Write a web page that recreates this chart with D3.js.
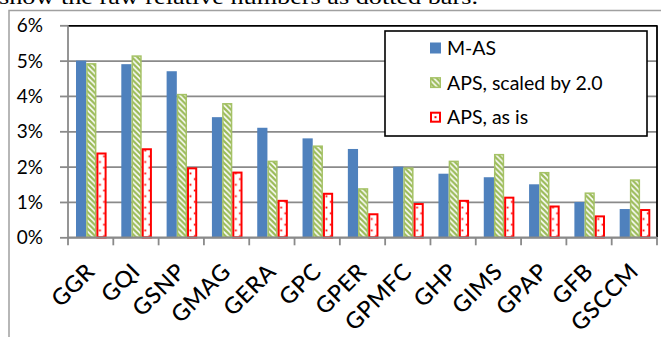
<!DOCTYPE html>
<html>
<head>
<meta charset="utf-8">
<script src="https://cdn.jsdelivr.net/npm/d3@7"></script>
<style>
  html, body { margin: 0; padding: 0; background: #fff; }
  svg { display: block; }
</style>
</head>
<body>
<div id="chart"></div>
<script>
// grouped bars: M-AS vs APS (scaled / as is)

const categories = ['GGR', 'GQI', 'GSNP', 'GMAG', 'GERA', 'GPC', 'GPER', 'GPMFC', 'GHP', 'GIMS', 'GPAP', 'GFB', 'GSCCM'];
const seriesNames = ['M-AS', 'APS, scaled by 2.0', 'APS, as is'];
const masValues = [5.0, 4.9, 4.7, 3.4, 3.1, 2.8, 2.5, 2.0, 1.8, 1.7, 1.5, 1.0, 0.8];
const apsScaledValues = [4.93, 5.15, 4.06, 3.8, 2.17, 2.6, 1.39, 1.98, 2.17, 2.36, 1.85, 1.27, 1.64];
const apsRawValues = [2.4, 2.52, 1.98, 1.86, 1.06, 1.26, 0.68, 0.97, 1.06, 1.15, 0.9, 0.62, 0.8];
const yTicks = [0, 1, 2, 3, 4, 5, 6];

const width = 661, height = 337;
const plot = { left: 68, right: 657, top: 25.3, bottom: 237.3 };
const blue = '#4f81bd', green = '#9bbb59', red = '#ff0000', grid = '#8a8a8a';

const svg = d3.select('#chart').append('svg').attr('width', width).attr('height', height);
svg.append('rect').attr('width', width).attr('height', height).attr('fill', '#fff');

const defs = svg.append('defs');

// green downward-diagonal stripes
const stripe = defs.append('pattern').attr('id', 'stripes').attr('patternUnits', 'userSpaceOnUse')
    .attr('width', 5.5).attr('height', 5.5);
stripe.append('rect').attr('width', 5.5).attr('height', 5.5).attr('fill', '#fff');
stripe.append('path').attr('d', 'M-1,-1 L6.5,6.5 M-1,4.5 L1,6.5 M4.5,-1 L6.5,1')
    .attr('stroke', green).attr('stroke-width', 2.4);

// red dots
const dots = defs.append('pattern').attr('id', 'dots').attr('patternUnits', 'userSpaceOnUse')
    .attr('width', 10).attr('height', 11.4);
dots.append('rect').attr('width', 10).attr('height', 11.4).attr('fill', '#fff');
dots.append('rect').attr('x', 2.6).attr('y', 1.5).attr('width', 1.8).attr('height', 1.8).attr('fill', red);
dots.append('rect').attr('x', 6.8).attr('y', 7.2).attr('width', 1.8).attr('height', 1.8).attr('fill', red);

// caption remnant and figure frame
svg.append('text').attr('x', -1).attr('y', 4)
    .attr('textLength', 479).attr('lengthAdjust', 'spacingAndGlyphs')
    .style('font-family', '"Liberation Serif", "Times New Roman", serif').style('font-size', '22px')
    .text('show the raw relative numbers as dotted bars.');
svg.append('path').attr('d', `M9,${height} L9,10.5 L${width},10.5`)
    .attr('fill', 'none').attr('stroke', '#a0a0a0').attr('stroke-width', 1.5);

const x = d3.scaleBand().domain(categories).range([plot.left, plot.right]);
const xInner = d3.scaleBand().domain(seriesNames).range([8, 38.6]);
const y = d3.scaleLinear().domain([0, 6]).range([plot.bottom, plot.top]);

// gridlines + y axis
const yAxis = d3.axisLeft(y).tickValues(yTicks).tickSize(-(plot.right - plot.left)).tickPadding(0).tickFormat(d => `${d}%`);
const yAxisG = svg.append('g').attr('transform', `translate(${plot.left},0)`).call(yAxis);
yAxisG.select('.domain').remove();
yAxisG.selectAll('.tick line').attr('stroke', d => d === 6 ? '#000' : grid).attr('stroke-width', 1.8);
yAxisG.selectAll('.tick').append('line').attr('x1', -8).attr('x2', 0).attr('stroke', grid).attr('stroke-width', 1.8);
yAxisG.selectAll('.tick text').attr('x', -25).attr('dy', '0.34em').attr('fill', '#000')
    .style('font-family', 'Lato, "Open Sans", sans-serif').style('font-size', '19px');

// plot border right side
svg.append('line').attr('x1', plot.right).attr('x2', plot.right).attr('y1', plot.top).attr('y2', plot.bottom)
    .attr('stroke', '#000').attr('stroke-width', 1.8);

const rows = [
    { name: seriesNames[0], values: masValues },
    { name: seriesNames[1], values: apsScaledValues },
    { name: seriesNames[2], values: apsRawValues }
];

const groups = svg.selectAll('g.cat').data(categories).enter().append('g').attr('class', 'cat')
    .attr('transform', d => `translate(${x(d)},0)`);

groups.append('rect')
    .attr('x', (d, i) => xInner(seriesNames[0]))
    .attr('y', (d, i) => y(masValues[i]))
    .attr('width', xInner.bandwidth())
    .attr('height', (d, i) => y(0) - y(masValues[i]))
    .attr('fill', blue);

groups.append('rect')
    .attr('x', (d, i) => xInner(seriesNames[1]) + 0.75)
    .attr('y', (d, i) => y(apsScaledValues[i]) + 0.75)
    .attr('width', xInner.bandwidth() - 1.5)
    .attr('height', (d, i) => y(0) - y(apsScaledValues[i]) - 0.75)
    .attr('fill', 'url(#stripes)')
    .attr('stroke', '#a5c266').attr('stroke-width', 1.5);

// dots tile starts at the red bar's left edge (pattern space = group space)
dots.attr('x', xInner(seriesNames[2]));

groups.append('rect')
    .attr('x', (d, i) => xInner(seriesNames[2]) + 1)
    .attr('y', (d, i) => y(apsRawValues[i]) + 1)
    .attr('width', xInner.bandwidth() - 2)
    .attr('height', (d, i) => y(0) - y(apsRawValues[i]) - 1)
    .attr('fill', 'url(#dots)')
    .attr('stroke', red).attr('stroke-width', 2);

// x axis
const xAxis = d3.axisBottom(x).tickSize(0).tickFormat('');
const xAxisG = svg.append('g').attr('transform', `translate(0,${plot.bottom})`).call(xAxis);
xAxisG.select('.domain').attr('stroke', grid).attr('stroke-width', 1.8).attr('d', `M${plot.left},0H${plot.right}`);
xAxisG.selectAll('.tick').remove();
xAxisG.selectAll('line.edge').data(d3.range(categories.length + 1)).enter().append('line')
    .attr('class', 'edge')
    .attr('x1', i => plot.left + i * x.step()).attr('x2', i => plot.left + i * x.step())
    .attr('y1', 0).attr('y2', 8)
    .attr('stroke', grid).attr('stroke-width', 1.8);

svg.append('line').attr('x1', plot.left).attr('x2', plot.left).attr('y1', plot.top).attr('y2', plot.bottom)
    .attr('stroke', grid).attr('stroke-width', 1.8);

svg.selectAll('text.xlab').data(categories).enter().append('text').attr('class', 'xlab')
    .attr('transform', d => `translate(${x(d) + x.bandwidth() / 2 + 5.5},273) rotate(-45)`)
    .attr('text-anchor', 'end')
    .style('font-family', 'Lato, "Open Sans", sans-serif').style('font-size', '23px')
    .style('font-weight', 500)
    .style('letter-spacing', '0.6px')
    .text(d => d);

// legend
const legend = svg.append('g').attr('transform', 'translate(385,31)');
legend.append('rect').attr('width', 262).attr('height', 105).attr('fill', '#fff')
    .attr('stroke', '#000').attr('stroke-width', 1.6);

const legendRows = legend.selectAll('g.lrow').data(rows).enter().append('g').attr('class', 'lrow')
    .attr('transform', (d, i) => `translate(45,${17 + i * 34.6})`);

legendRows.append('rect')
    .attr('x', (d, i) => i === 0 ? 0 : (i === 1 ? 0.75 : 1))
    .attr('y', (d, i) => i === 0 ? -5.5 : (i === 1 ? -4.75 : -4.5))
    .attr('width', (d, i) => i === 0 ? 11 : (i === 1 ? 9.5 : 9))
    .attr('height', (d, i) => i === 0 ? 11 : (i === 1 ? 9.5 : 9))
    .attr('fill', (d, i) => i === 0 ? blue : (i === 1 ? 'url(#stripes)' : '#fff'))
    .attr('stroke', (d, i) => i === 0 ? 'none' : (i === 1 ? '#a5c266' : red))
    .attr('stroke-width', (d, i) => i === 2 ? 2 : 1.5);

legendRows.filter((d, i) => i === 2).append('rect')
    .attr('x', 4.5).attr('y', -1).attr('width', 2).attr('height', 2).attr('fill', red);

legendRows.append('text')
    .attr('x', 17).attr('dy', '0.36em')
    .style('font-family', 'Lato, "Open Sans", sans-serif').style('font-size', '19.5px')
    .text(d => d.name);
</script>
</body>
</html>
